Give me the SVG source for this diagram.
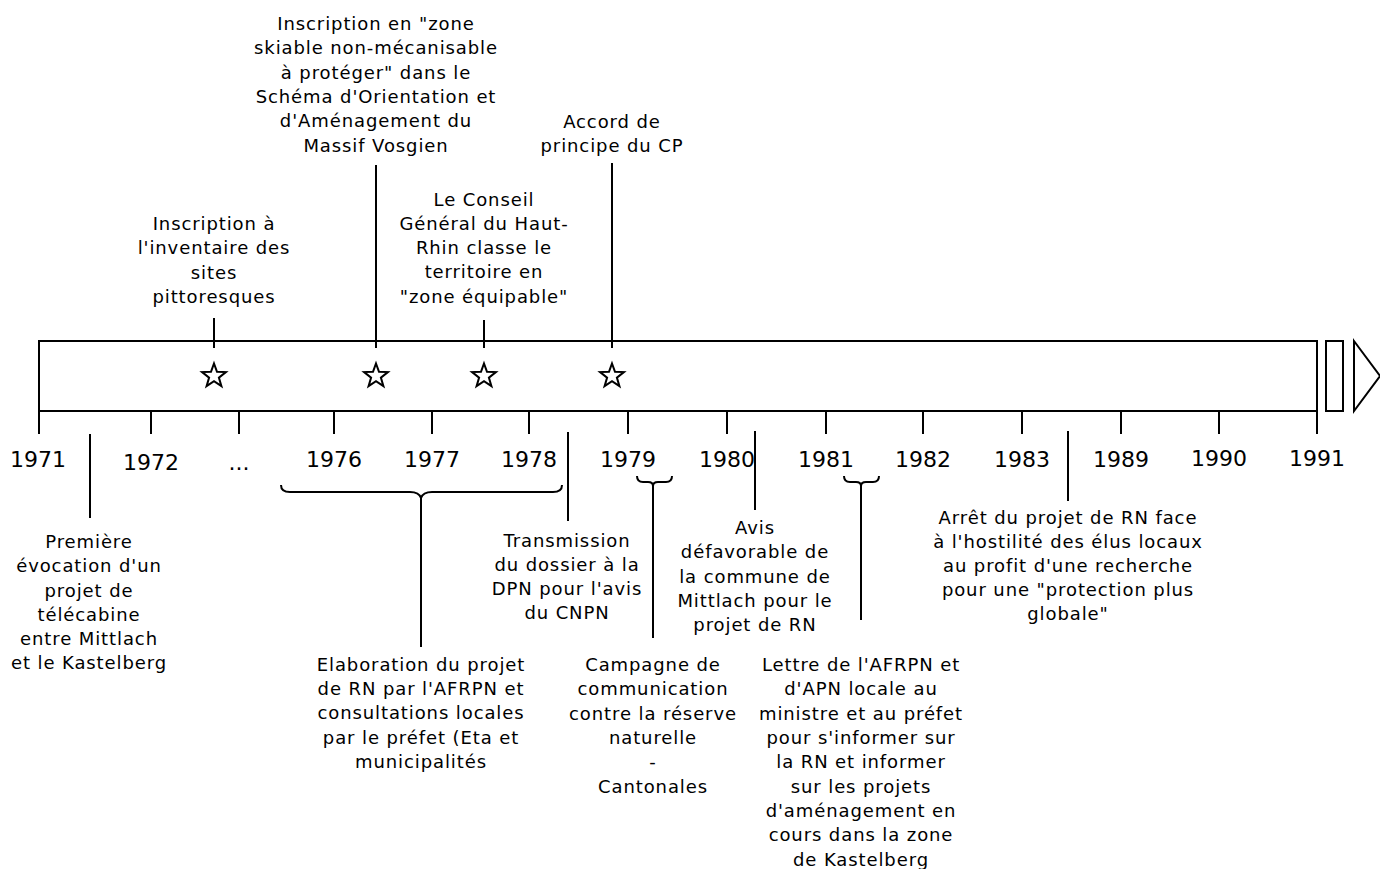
<svg xmlns="http://www.w3.org/2000/svg" width="1380" height="869" viewBox="0 0 1380 869">
<style>
.s{fill:none;stroke:#000;stroke-width:2}
.t{font-family:"DejaVu Sans",Verdana,sans-serif;font-size:18px;letter-spacing:0.9px;fill:#000;text-anchor:middle}
.y{font-family:"DejaVu Sans",Verdana,sans-serif;font-size:22px;fill:#000;text-anchor:middle}
</style>
<defs>
<path id="star" d="M0,-12.5 L3,-4.2 L11.9,-3.9 L4.9,1.6 L7.4,10.1 L0,5.1 L-7.4,10.1 L-4.9,1.6 L-11.9,-3.9 L-3,-4.2 Z" fill="#fff" stroke="#000" stroke-width="2"/>
</defs>
<rect width="1380" height="869" fill="#fff"/>
<g id="timeline">
<rect class="s" x="39" y="341" width="1278" height="70"/>
<rect class="s" x="1326" y="341" width="17" height="70"/>
<path class="s" d="M1354,341 L1380,376 L1354,411 Z"/>
<path class="s" d="M39,411V434M151,411V434M239,411V434M334,411V434M432,411V434M529,411V434M628,411V434M727,411V434M826,411V434M923,411V434M1022,411V434M1121,411V434M1219,411V434M1317,411V434"/>
<text class="y" x="38" y="467">1971</text>
<text class="y" x="151" y="470">1972</text>
<text class="y" x="239" y="470">...</text>
<text class="y" x="334" y="467">1976</text>
<text class="y" x="432" y="467">1977</text>
<text class="y" x="529" y="467">1978</text>
<text class="y" x="628" y="467">1979</text>
<text class="y" x="727" y="467">1980</text>
<text class="y" x="826" y="467">1981</text>
<text class="y" x="923" y="467">1982</text>
<text class="y" x="1022" y="467">1983</text>
<text class="y" x="1121" y="467">1989</text>
<text class="y" x="1219" y="466">1990</text>
<text class="y" x="1317" y="466">1991</text>
</g>
<g id="connectors">
<path class="s" d="M214,318V348M376,165V348M484,320V348M612,163V348"/>
<path class="s" d="M90,434V518M568,432V521M755,431V510M1068,431V501"/>
<path class="s" d="M281,485 Q281,492 290,492 L410,492 Q419,492 421,498 Q423,492 432,492 L553,492 Q562,492 562,485"/>
<path class="s" d="M421,496V647"/>
<path class="s" d="M637,476 Q637,482 643,482 L648,482 Q653,482 653,486 Q653,482 658,482 L666,482 Q672,482 672,476"/>
<path class="s" d="M653,484V638"/>
<path class="s" d="M844,476 Q844,482 850,482 L856,482 Q861,482 861,486 Q861,482 866,482 L873,482 Q879,482 879,476"/>
<path class="s" d="M861,484V620"/>
</g>
<g id="stars">
<use href="#star" x="214" y="376"/>
<use href="#star" x="376" y="376"/>
<use href="#star" x="484" y="376"/>
<use href="#star" x="612" y="376"/>
</g>
<g id="n-inventaire">
<text class="t" x="214" y="230">Inscription à</text>
<text class="t" x="214" y="254">l'inventaire des</text>
<text class="t" x="214" y="279">sites</text>
<text class="t" x="214" y="303">pittoresques</text>
</g>
<g id="n-schema">
<text class="t" x="376" y="30">Inscription en "zone</text>
<text class="t" x="376" y="54">skiable non-mécanisable</text>
<text class="t" x="376" y="79">à protéger" dans le</text>
<text class="t" x="376" y="103">Schéma d'Orientation et</text>
<text class="t" x="376" y="127">d'Aménagement du</text>
<text class="t" x="376" y="152">Massif Vosgien</text>
</g>
<g id="n-conseil">
<text class="t" x="484" y="206">Le Conseil</text>
<text class="t" x="484" y="230">Général du Haut-</text>
<text class="t" x="484" y="254">Rhin classe le</text>
<text class="t" x="484" y="278">territoire en</text>
<text class="t" x="484" y="303">"zone équipable"</text>
</g>
<g id="n-accord">
<text class="t" x="612" y="128">Accord de</text>
<text class="t" x="612" y="152">principe du CP</text>
</g>
<g id="n-premiere">
<text class="t" x="89" y="548">Première</text>
<text class="t" x="89" y="572">évocation d'un</text>
<text class="t" x="89" y="597">projet de</text>
<text class="t" x="89" y="621">télécabine</text>
<text class="t" x="89" y="645">entre Mittlach</text>
<text class="t" x="89" y="669">et le Kastelberg</text>
</g>
<g id="n-elaboration">
<text class="t" x="421" y="671">Elaboration du projet</text>
<text class="t" x="421" y="695">de RN par l'AFRPN et</text>
<text class="t" x="421" y="719">consultations locales</text>
<text class="t" x="421" y="744">par le préfet (Eta et</text>
<text class="t" x="421" y="768">municipalités</text>
</g>
<g id="n-transmission">
<text class="t" x="567" y="547">Transmission</text>
<text class="t" x="567" y="571">du dossier à la</text>
<text class="t" x="567" y="595">DPN pour l'avis</text>
<text class="t" x="567" y="619">du CNPN</text>
</g>
<g id="n-campagne">
<text class="t" x="653" y="671">Campagne de</text>
<text class="t" x="653" y="695">communication</text>
<text class="t" x="653" y="720">contre la réserve</text>
<text class="t" x="653" y="744">naturelle</text>
<text class="t" x="653" y="768">-</text>
<text class="t" x="653" y="793">Cantonales</text>
</g>
<g id="n-avis">
<text class="t" x="755" y="534">Avis</text>
<text class="t" x="755" y="558">défavorable de</text>
<text class="t" x="755" y="583">la commune de</text>
<text class="t" x="755" y="607">Mittlach pour le</text>
<text class="t" x="755" y="631">projet de RN</text>
</g>
<g id="n-lettre">
<text class="t" x="861" y="671">Lettre de l'AFRPN et</text>
<text class="t" x="861" y="695">d'APN locale au</text>
<text class="t" x="861" y="720">ministre et au préfet</text>
<text class="t" x="861" y="744">pour s'informer sur</text>
<text class="t" x="861" y="768">la RN et informer</text>
<text class="t" x="861" y="793">sur les projets</text>
<text class="t" x="861" y="817">d'aménagement en</text>
<text class="t" x="861" y="841">cours dans la zone</text>
<text class="t" x="861" y="866">de Kastelberg</text>
</g>
<g id="n-arret">
<text class="t" x="1068" y="524">Arrêt du projet de RN face</text>
<text class="t" x="1068" y="548">à l'hostilité des élus locaux</text>
<text class="t" x="1068" y="572">au profit d'une recherche</text>
<text class="t" x="1068" y="596">pour une "protection plus</text>
<text class="t" x="1068" y="620">globale"</text>
</g>
</svg>
